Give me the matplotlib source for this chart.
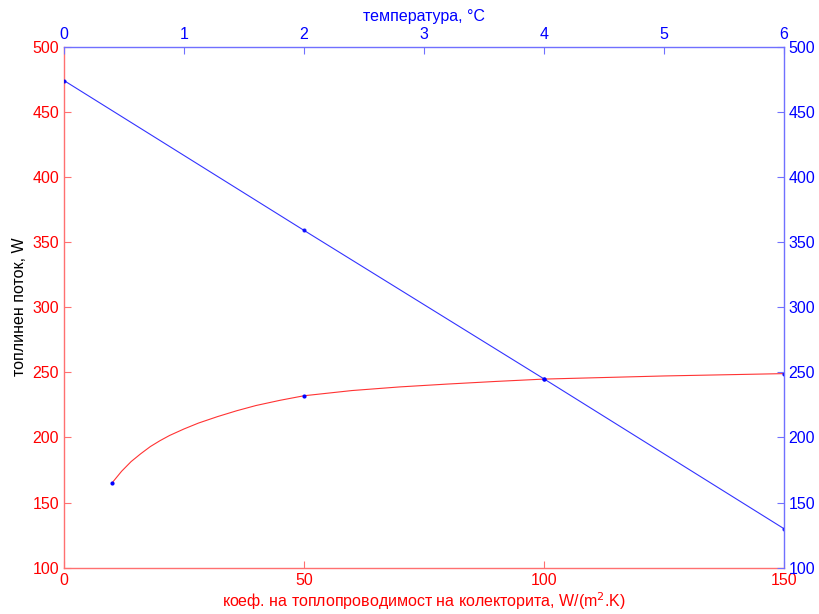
import matplotlib.pyplot as plt

plt.rcParams['font.family'] = ['Liberation Sans', 'DejaVu Sans']

# heat flux vs. collector conductance coefficient (red curve, bottom/left axes)
h_curve = [10, 12, 14, 16, 18, 20, 22, 25, 28, 32, 36, 40, 45, 50,
           60, 70, 80, 90, 100, 125, 150]
q_curve = [165, 174, 181.5, 187.5, 193, 197.5, 201.5, 206.5, 211, 216, 220.5, 224.5, 228.5, 232,
           236, 238.8, 241, 243, 244.8, 247.2, 249]
h_pts = [10, 50, 100, 150]
q_pts = [165, 232, 245, 249]

# heat flux vs. temperature (blue line, top/right axes)
temp = [0, 2, 4, 6]
q_temp = [474, 359, 245, 130]

red = '#ff0000'
blue = '#0000ff'
fs = 11.5

fig = plt.figure(figsize=(8.19, 6.14), dpi=100)
pos = [0.0781, 0.0754, 0.879, 0.8486]

ax = fig.add_axes(pos)
ax.plot(h_curve, q_curve, color=red, lw=0.8, alpha=0.8)
ax.plot(h_pts, q_pts, ls='none', marker='o', ms=2.0, color=blue)
ax.set_xlim(0, 150)
ax.set_ylim(100, 500)
ax.set_xticks([0, 50, 100, 150])
ax.set_yticks(range(100, 501, 50))
for s in ['top', 'right']:
    ax.spines[s].set_visible(False)
for s in ['left', 'bottom']:
    ax.spines[s].set_color('#ff7070')
    ax.spines[s].set_linewidth(1.0)
ax.tick_params(direction='in', colors='#ff7070', labelcolor=red, labelsize=fs, length=5)
ax.set_xlabel('коеф. на топлопроводимост на колекторита, W/(m$^2$.K)', color=red, fontsize=fs, labelpad=2)
ax.set_ylabel('топлинен поток, W', color='black', fontsize=fs, labelpad=4)

ax2 = fig.add_axes(pos, frameon=True)
ax2.patch.set_visible(False)
ax2.plot(temp, q_temp, color=blue, lw=0.8, alpha=0.8, marker='o', ms=2.0,
         mfc=blue, mec=blue)
ax2.set_xlim(0, 6)
ax2.set_ylim(100, 500)
ax2.set_xticks(range(0, 7))
ax2.set_yticks(range(100, 501, 50))
ax2.xaxis.tick_top()
ax2.xaxis.set_label_position('top')
ax2.yaxis.tick_right()
for s in ['left', 'bottom']:
    ax2.spines[s].set_visible(False)
for s in ['top', 'right']:
    ax2.spines[s].set_color('#7070ff')
    ax2.spines[s].set_linewidth(1.0)
ax2.tick_params(direction='in', colors='#7070ff', labelcolor=blue, labelsize=fs, length=5)
ax2.set_xlabel('температура, °C', color=blue, fontsize=fs, labelpad=4)

fig.savefig('out.png', dpi=100)
